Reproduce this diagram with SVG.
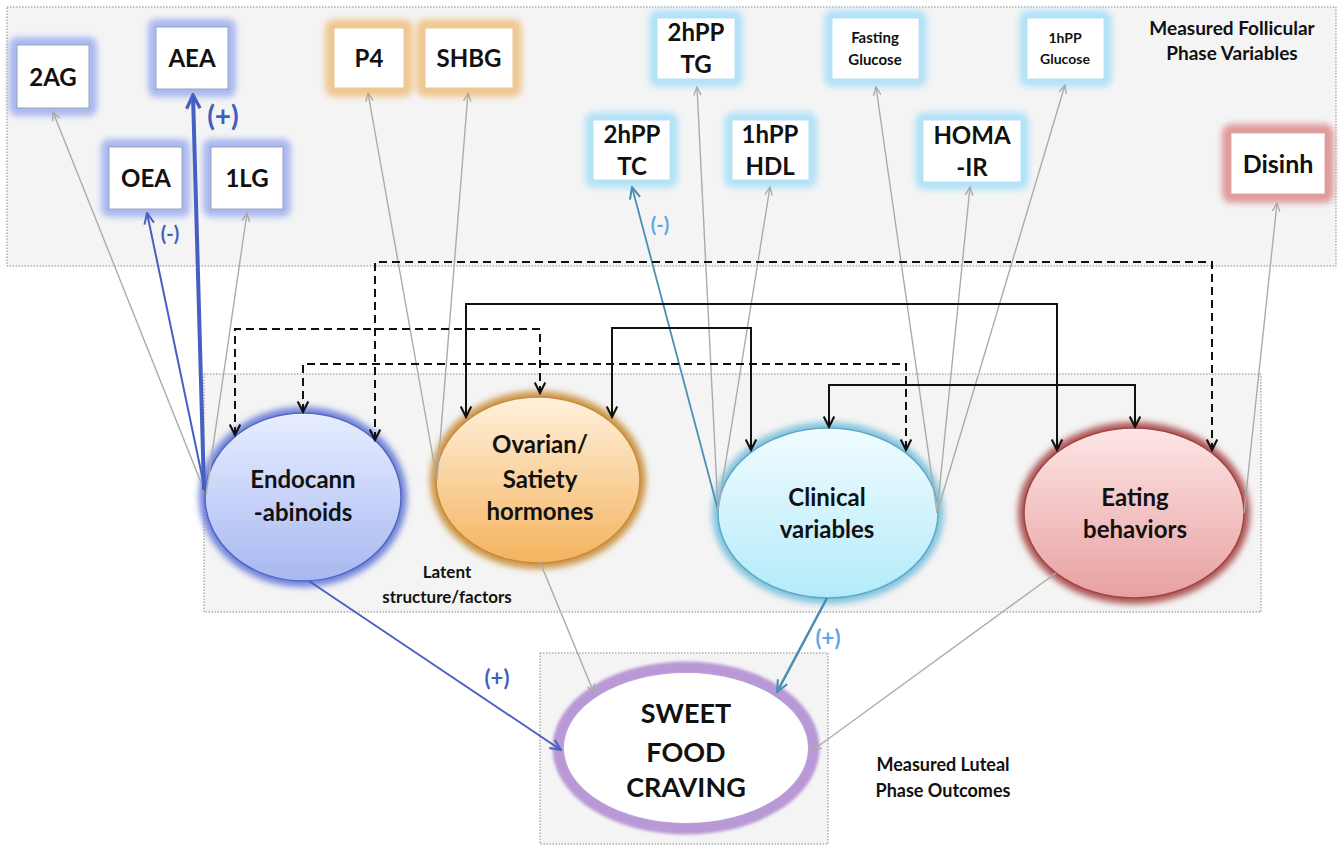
<svg xmlns="http://www.w3.org/2000/svg" width="1342" height="846" viewBox="0 0 1342 846">
<defs>
<style>
.panel{fill:#f4f4f4;stroke:#8a8a8a;stroke-width:1;stroke-dasharray:1.5,1.5}
.box{fill:#fff;stroke:#9aa3b8;stroke-width:1}
.lbl{font-family:Lato,"Open Sans","Liberation Sans",sans-serif;font-weight:bold;fill:#111;text-anchor:middle}
.b24{font-size:24px}
.b15{font-size:15px}
.b14{font-size:14px}
.note{font-size:17px}
.big{font-size:27px}
.gline{fill:none;stroke:#ababab;stroke-width:1.4}
.kline{fill:none;stroke:#111;stroke-width:2}
.dash{stroke-dasharray:8,5}
.sgn{font-family:Lato,"Open Sans","Liberation Sans",sans-serif;font-weight:bold;text-anchor:middle}
</style>
<filter id="blur3" x="-30%" y="-30%" width="160%" height="160%"><feGaussianBlur stdDeviation="3"/></filter>
<filter id="blur2" x="-20%" y="-20%" width="140%" height="140%"><feGaussianBlur stdDeviation="1.8"/></filter>
<linearGradient id="gEndo" x1="0" y1="0" x2="0" y2="1"><stop offset="0" stop-color="#e8eeff"/><stop offset="1" stop-color="#a7b8f2"/></linearGradient>
<linearGradient id="gOva" x1="0" y1="0" x2="0" y2="1"><stop offset="0" stop-color="#fff1dc"/><stop offset="1" stop-color="#f4b35e"/></linearGradient>
<linearGradient id="gCli" x1="0" y1="0" x2="0" y2="1"><stop offset="0" stop-color="#f0fcff"/><stop offset="1" stop-color="#b3ebfa"/></linearGradient>
<linearGradient id="gEat" x1="0" y1="0" x2="0" y2="1"><stop offset="0" stop-color="#fde6e6"/><stop offset="1" stop-color="#e8a0a0"/></linearGradient>
<marker id="ak" markerUnits="userSpaceOnUse" markerWidth="14" markerHeight="14" viewBox="0 0 12 12" refX="10" refY="6" orient="auto-start-reverse"><path d="M1,1.5 L10,6 L1,10.5" fill="none" stroke="#111" stroke-width="1.8"/></marker>
<marker id="ag" markerUnits="userSpaceOnUse" markerWidth="10" markerHeight="10" viewBox="0 0 12 12" refX="11" refY="6" orient="auto"><path d="M1,1.5 L11,6 L1,10.5" fill="none" stroke="#a8a8a8" stroke-width="1.6"/></marker>
<marker id="ab" markerUnits="userSpaceOnUse" markerWidth="13" markerHeight="13" viewBox="0 0 12 12" refX="11" refY="6" orient="auto"><path d="M1,1.5 L11,6 L1,10.5" fill="none" stroke="#4560c2" stroke-width="1.8"/></marker>
<marker id="abT" markerUnits="userSpaceOnUse" markerWidth="18" markerHeight="18" viewBox="0 0 12 12" refX="10.5" refY="6" orient="auto"><path d="M1.5,1.5 L10.5,6 L1.5,10.5" fill="none" stroke="#4560c2" stroke-width="2.2"/></marker>
<marker id="at" markerUnits="userSpaceOnUse" markerWidth="14" markerHeight="14" viewBox="0 0 12 12" refX="11" refY="6" orient="auto"><path d="M1,1.5 L11,6 L1,10.5" fill="none" stroke="#4a8fb2" stroke-width="1.8"/></marker>
</defs>

<rect width="1342" height="846" fill="#fff"/>

<g id="panel-follicular">
<rect class="panel" x="7" y="7" width="1329" height="259"/>
<text class="lbl" x="1232" y="35" font-size="19">Measured Follicular</text>
<text class="lbl" x="1232" y="60" font-size="19">Phase Variables</text>
</g>
<g id="panel-latent">
<rect class="panel" x="204" y="374" width="1057" height="238"/>
<text class="lbl note" x="447" y="578">Latent</text>
<text class="lbl note" x="447" y="603">structure/factors</text>
</g>
<g id="panel-luteal">
<rect class="panel" x="540" y="653" width="288" height="191"/>
<text class="lbl" x="943" y="771" font-size="18">Measured Luteal</text>
<text class="lbl" x="943" y="797" font-size="18">Phase Outcomes</text>
</g>

<!-- measured boxes -->
<g id="n-2AG"><rect x="9" y="37" width="88" height="79" rx="8" fill="#a9b8f0" filter="url(#blur3)"/><rect class="box" x="17" y="45" width="72" height="63"/><text class="lbl b24" x="53" y="86">2AG</text></g>
<g id="n-AEA"><rect x="148" y="19" width="88" height="78" rx="8" fill="#a9b8f0" filter="url(#blur3)"/><rect class="box" x="156" y="27" width="72" height="62"/><text class="lbl b24" x="192" y="67">AEA</text></g>
<g id="n-OEA"><rect x="101" y="139" width="89" height="78" rx="8" fill="#a9b8f0" filter="url(#blur3)"/><rect class="box" x="109" y="147" width="73" height="62"/><text class="lbl b24" x="146" y="187">OEA</text></g>
<g id="n-1LG"><rect x="203" y="139" width="88" height="78" rx="8" fill="#a9b8f0" filter="url(#blur3)"/><rect class="box" x="211" y="147" width="72" height="62"/><text class="lbl b24" x="247" y="187">1LG</text></g>
<g id="n-P4"><rect x="325" y="19" width="88" height="78" rx="9" fill="#f0c890" filter="url(#blur3)"/><rect class="box" x="334" y="28" width="70" height="60" style="stroke:#e8c89a"/><text class="lbl b24" x="369" y="67">P4</text></g>
<g id="n-SHBG"><rect x="416" y="19" width="106" height="78" rx="9" fill="#f0c890" filter="url(#blur3)"/><rect class="box" x="425" y="28" width="88" height="60" style="stroke:#e8c89a"/><text class="lbl b24" x="469" y="67">SHBG</text></g>
<g id="n-2hPPTG"><rect x="649" y="10" width="94" height="77" rx="9" fill="#b2e2f8" filter="url(#blur3)"/><rect class="box" x="657" y="18" width="78" height="61" style="stroke:#b8e2f5"/><text class="lbl b24" x="696" y="41">2hPP</text><text class="lbl b24" x="696" y="73">TG</text></g>
<g id="n-FastGlu"><rect x="824" y="10" width="103" height="77" rx="9" fill="#b2e2f8" filter="url(#blur3)"/><rect class="box" x="832" y="18" width="87" height="61" style="stroke:#b8e2f5"/><text class="lbl b15" x="875" y="43">Fasting</text><text class="lbl b15" x="875" y="65">Glucose</text></g>
<g id="n-1hPPGlu"><rect x="1019" y="10" width="93" height="77" rx="9" fill="#b2e2f8" filter="url(#blur3)"/><rect class="box" x="1027" y="18" width="77" height="61" style="stroke:#b8e2f5"/><text class="lbl b14" x="1065" y="43">1hPP</text><text class="lbl b14" x="1065" y="64">Glucose</text></g>
<g id="n-2hPPTC"><rect x="585" y="112" width="93" height="76" rx="9" fill="#b2e2f8" filter="url(#blur3)"/><rect class="box" x="593" y="120" width="77" height="60" style="stroke:#b8e2f5"/><text class="lbl b24" x="632" y="143">2hPP</text><text class="lbl b24" x="632" y="175">TC</text></g>
<g id="n-1hPPHDL"><rect x="724" y="112" width="93" height="76" rx="9" fill="#b2e2f8" filter="url(#blur3)"/><rect class="box" x="732" y="120" width="77" height="60" style="stroke:#b8e2f5"/><text class="lbl b24" x="770" y="143">1hPP</text><text class="lbl b24" x="770" y="175">HDL</text></g>
<g id="n-HOMA"><rect x="915" y="112" width="114" height="78" rx="9" fill="#b2e2f8" filter="url(#blur3)"/><rect class="box" x="923" y="120" width="98" height="62" style="stroke:#b8e2f5"/><text class="lbl b24" x="972" y="144">HOMA</text><text class="lbl b24" x="972" y="176">-IR</text></g>
<g id="n-Disinh"><rect x="1222" y="124" width="112" height="79" rx="9" fill="#e09a9a" filter="url(#blur3)"/><rect class="box" x="1231" y="133" width="94" height="61" style="stroke:#e0a8a8"/><text class="lbl" x="1278" y="173" font-size="25">Disinh</text></g>

<!-- latent factors -->
<g id="n-Endo"><ellipse cx="303" cy="497" rx="104" ry="90" fill="#7083da" filter="url(#blur3)"/><ellipse cx="303" cy="497" rx="98" ry="84" fill="url(#gEndo)" stroke="#5466c0" stroke-width="1.5"/><text class="lbl b24" x="303" y="488">Endocann</text><text class="lbl b24" x="303" y="521">-abinoids</text></g>
<g id="n-Ovarian"><ellipse cx="538" cy="480" rx="108" ry="89" fill="#cc9646" filter="url(#blur3)"/><ellipse cx="538" cy="480" rx="102" ry="83" fill="url(#gOva)" stroke="#c98a3a" stroke-width="1.5"/><text class="lbl b24" x="540" y="453">Ovarian/</text><text class="lbl b24" x="540" y="488">Satiety</text><text class="lbl b24" x="540" y="520">hormones</text></g>
<g id="n-Clinical"><ellipse cx="828" cy="513" rx="116" ry="91" fill="#82c4de" filter="url(#blur3)"/><ellipse cx="828" cy="513" rx="110" ry="85" fill="url(#gCli)" stroke="#5fa8c8" stroke-width="1.5"/><text class="lbl b24" x="827" y="506">Clinical</text><text class="lbl b24" x="827" y="538">variables</text></g>
<g id="n-Eating"><ellipse cx="1134" cy="513" rx="116" ry="91" fill="#ae5454" filter="url(#blur3)"/><ellipse cx="1134" cy="513" rx="110" ry="85" fill="url(#gEat)" stroke="#a04444" stroke-width="1.5"/><text class="lbl b24" x="1135" y="506">Eating</text><text class="lbl b24" x="1135" y="538">behaviors</text></g>

<!-- outcome -->
<g id="n-Sweet"><ellipse cx="686" cy="748" rx="127" ry="80" fill="#fff" stroke="#b898d6" stroke-width="13" filter="url(#blur2)"/><ellipse cx="686" cy="748" rx="122" ry="75" fill="#fff"/><text class="lbl big" x="686" y="723">SWEET</text><text class="lbl big" x="686" y="762">FOOD</text><text class="lbl big" x="686" y="797">CRAVING</text></g>

<g id="connectors">
<!-- indicators -->
<path class="gline" d="M206,495 L53,112" marker-end="url(#ag)"/>
<path d="M206,495 L147,213" fill="none" stroke="#4560c2" stroke-width="2" marker-end="url(#ab)"/>
<path d="M204,490 L193,95" fill="none" stroke="#4560c2" stroke-width="4" marker-end="url(#abT)"/>
<path class="gline" d="M206,495 L247,213" marker-end="url(#ag)"/>
<path class="gline" d="M437,480 L368,93" marker-end="url(#ag)"/>
<path class="gline" d="M437,480 L468,93" marker-end="url(#ag)"/>
<path d="M718,510 L632,187" fill="none" stroke="#4a8fb2" stroke-width="1.8" marker-end="url(#at)"/>
<path class="gline" d="M718,510 L697,87" marker-end="url(#ag)"/>
<path class="gline" d="M718,510 L770,187" marker-end="url(#ag)"/>
<path class="gline" d="M937,513 L876,87" marker-end="url(#ag)"/>
<path class="gline" d="M937,513 L970,187" marker-end="url(#ag)"/>
<path class="gline" d="M937,513 L1065,85" marker-end="url(#ag)"/>
<path class="gline" d="M1244,513 L1277,203" marker-end="url(#ag)"/>
<!-- factor correlations -->
<path class="kline dash" d="M375,440 V262 H1212 V450" marker-start="url(#ak)" marker-end="url(#ak)"/>
<path class="kline dash" d="M235,435 V329 H540 V393" marker-start="url(#ak)" marker-end="url(#ak)"/>
<path class="kline dash" d="M303,412 V364 H906 V450" marker-start="url(#ak)" marker-end="url(#ak)"/>
<path class="kline" d="M466,417 V304 H1057 V450" marker-start="url(#ak)" marker-end="url(#ak)"/>
<path class="kline" d="M612,417 V328 H751 V450" marker-start="url(#ak)" marker-end="url(#ak)"/>
<path class="kline" d="M829,427 V385 H1135 V427" marker-start="url(#ak)" marker-end="url(#ak)"/>
<!-- to outcome -->
<path d="M309,581 L561,750" fill="none" stroke="#4560c2" stroke-width="1.8" marker-end="url(#ab)"/>
<path class="gline" d="M540,562 L594,693" marker-end="url(#ag)"/>
<path d="M827,598 L777,692" fill="none" stroke="#4a8fb2" stroke-width="2.6" marker-end="url(#at)"/>
<path class="gline" d="M1056,573 L813,750" marker-end="url(#ag)"/>
<!-- signs -->
<text class="sgn" x="223" y="126" font-size="28" fill="#3f5fc0">(+)</text>
<text class="sgn" x="170" y="241" font-size="20" fill="#3f5fc0">(-)</text>
<text class="sgn" x="660" y="232" font-size="20" fill="#5aa8e6">(-)</text>
<text class="sgn" x="497" y="686" font-size="22" fill="#3f5fc0">(+)</text>
<text class="sgn" x="828" y="646" font-size="22" fill="#5aa8e6">(+)</text>
</g>
</svg>
